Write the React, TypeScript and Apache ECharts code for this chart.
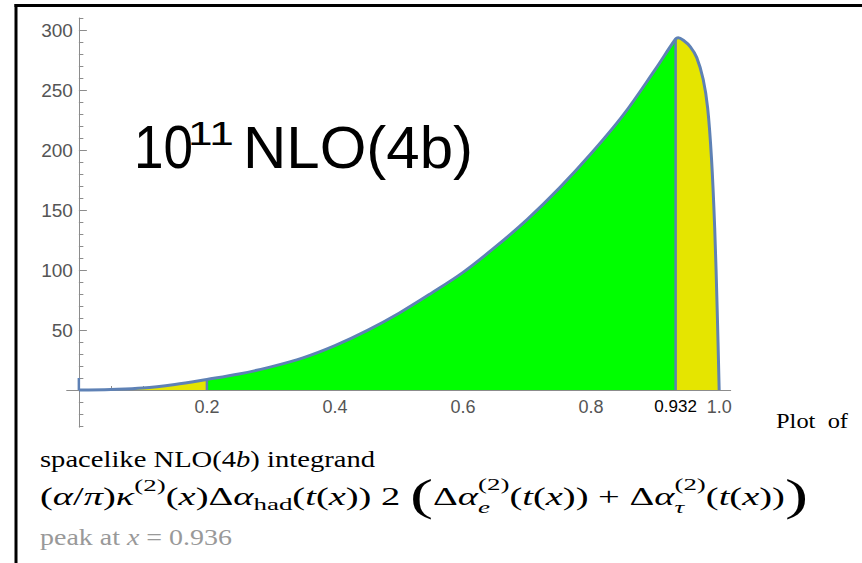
import React, { useEffect, useRef } from 'react';
import * as echarts from 'echarts';

// ---- data ----
const xs = [0, 0.05, 0.1, 0.15, 0.2, 0.25, 0.3, 0.35, 0.4, 0.45, 0.5, 0.55, 0.6, 0.65, 0.7, 0.75, 0.8, 0.85, 0.9, 0.932, 0.936, 0.945, 0.955, 0.965, 0.975, 0.982, 0.988, 0.993, 0.997, 1.0];
const ys = [0, 0.5, 1.6, 4.6, 8.8, 13.3, 19.3, 26.8, 37, 49.5, 64, 80.5, 98, 119, 142, 168, 197, 229, 267, 292.5, 293.5, 291, 286, 277, 259, 235, 193, 135, 65, 0];
const splitPoints = [0.2, 0.932];
const zeroMark = [0, 10];
const xTickLabels = [0.2, 0.4, 0.6, 0.8, 1.0];
const xMarked = 0.932;
const xMinorTicks = [0.05, 0.1, 0.15, 0.25, 0.3, 0.35, 0.45, 0.5, 0.55, 0.65, 0.7, 0.75, 0.85, 0.9, 0.95];
const yTickLabels = [50, 100, 150, 200, 250, 300];
const yMinorTicks = [-30, -20, -10, 10, 20, 30, 40, 60, 70, 80, 90, 110, 120, 130, 140, 160, 170, 180, 190, 210, 220, 230, 240, 260, 270, 280, 290, 310];

const X_MIN = -0.019;
const X_MAX = 1.018;
const Y_MIN = -31;
const Y_MAX = 310;

const BLUE = '#5e81b5';
const GREEN = '#00ff00';
const YELLOW = '#e5e500';
const AXIS = '#8c8c8c';
const LABEL = '#555555';
const SERIF = '"Liberation Serif", "DejaVu Serif", serif';
const SANS = '"Liberation Sans", Arial, sans-serif';

type Piece = { t: string; it?: boolean; sc?: number; dy?: number; noAdv?: boolean };

// Lays pieces out left to right at a given font size, stretched horizontally to span x0..x1.
function layoutLine(pieces: Piece[], x0: number, x1: number, baseline: number, fontSize: number, family: string, color: string) {
  const ctx = document.createElement('canvas').getContext('2d')!;
  let x = 0;
  let pending = 0;
  const placed: { p: Piece; x: number; sz: number }[] = [];
  for (const p of pieces) {
    const sz = fontSize * (p.sc ?? 1);
    ctx.font = `${p.it ? 'italic ' : ''}${sz}px ${family}`;
    const w = ctx.measureText(p.t).width;
    placed.push({ p, x, sz });
    if (p.noAdv) pending = Math.max(pending, w);
    else {
      x += Math.max(w, pending);
      pending = 0;
    }
  }
  const kx = (x1 - x0) / x;
  return placed.map(({ p, x: px, sz }) => {
    const base = baseline + (p.dy ?? 0) * fontSize;
    return {
      type: 'text',
      silent: true,
      x: x0 + px * kx,
      y: base - 0.34 * sz,
      scaleX: kx,
      style: {
        text: p.t,
        fontSize: sz,
        fontFamily: family,
        fontStyle: p.it ? 'italic' : 'normal',
        fill: color,
        align: 'left',
        verticalAlign: 'middle',
      },
    };
  });
}

export default function App() {
  const ref = useRef<HTMLDivElement>(null);
  useEffect(() => {
    if (!ref.current) return;
    const chart = echarts.init(ref.current, null, { renderer: 'svg' });
    const curve = xs.map((x, i) => [x, ys[i]]);
    const meshSeries = splitPoints.map((s) => {
      const i = xs.indexOf(s);
      return {
        type: 'line',
        data: [[s, 0], [s, ys[i]]],
        symbol: 'none',
        lineStyle: { color: BLUE, width: 2.5 },
        z: 3,
        silent: true,
      };
    });

    // grid geometry
    const gLeft = 66.7, gTop = 18, gWidth = 664, gHeight = 409.2;
    const zeroX = gLeft + ((0 - X_MIN) / (X_MAX - X_MIN)) * gWidth;
    const zeroY = gTop + ((Y_MAX - 0) / (Y_MAX - Y_MIN)) * gHeight;
    const xOffset = -(gTop + gHeight - zeroY);
    const yOffset = -(zeroX - gLeft);

    const formula: Piece[] = [
      { t: '(' }, { t: 'α', it: true }, { t: '/' }, { t: 'π', it: true }, { t: ')' }, { t: 'κ', it: true },
      { t: '(2)', sc: 0.7, dy: -0.55 }, { t: '(' }, { t: 'x', it: true }, { t: ')' },
      { t: 'Δ' }, { t: 'α', it: true }, { t: 'had', sc: 0.7, dy: 0.2 }, { t: '(' }, { t: 't', it: true }, { t: '(' }, { t: 'x', it: true }, { t: '))' },
      { t: ' 2 ' }, { t: '(', sc: 1.8, dy: 0.2 },
      { t: 'Δ' }, { t: 'α', it: true }, { t: '(2)', sc: 0.7, dy: -0.6, noAdv: true }, { t: 'e', it: true, sc: 0.7, dy: 0.32 },
      { t: '(' }, { t: 't', it: true }, { t: '(' }, { t: 'x', it: true }, { t: '))' }, { t: ' + ' },
      { t: 'Δ' }, { t: 'α', it: true }, { t: '(2)', sc: 0.7, dy: -0.6, noAdv: true }, { t: 'τ', it: true, sc: 0.7, dy: 0.32 },
      { t: '(' }, { t: 't', it: true }, { t: '(' }, { t: 'x', it: true }, { t: '))' }, { t: ')', sc: 1.8, dy: 0.2 },
    ];

    const FS = 22.5;
    const graphics: any[] = [
      { type: 'line', silent: true, shape: { x1: 16, y1: 4, x2: 16, y2: 563 }, style: { stroke: '#000', lineWidth: 3 } },
      { type: 'line', silent: true, shape: { x1: 14.5, y1: 5.5, x2: 862, y2: 5.5 }, style: { stroke: '#000', lineWidth: 3 } },
      { type: 'text', silent: true, x: 134, y: 147, scaleX: 0.87, style: { text: '10', fontSize: 61, fontFamily: SANS, fill: '#000', align: 'left', verticalAlign: 'middle' } },
      { type: 'text', silent: true, x: 188, y: 133, scaleX: 1.3, style: { text: '11', fontSize: 34, fontFamily: SANS, fill: '#000', align: 'left', verticalAlign: 'middle' } },
      { type: 'text', silent: true, x: 243, y: 147, style: { text: 'NLO(4b)', fontSize: 60, fontFamily: SANS, fill: '#000', align: 'left', verticalAlign: 'middle' } },
      ...layoutLine([{ t: 'Plot' }, { t: '\u2002' }, { t: 'of' }], 776, 848, 428, 22, SERIF, '#000'),
      ...layoutLine([{ t: 'spacelike NLO(4' }, { t: 'b', it: true }, { t: ') integrand' }], 40, 375, 467, FS, SERIF, '#000'),
      ...layoutLine(formula, 40, 808, 505, 25, SERIF, '#000'),
      ...layoutLine([{ t: 'peak at ' }, { t: 'x', it: true }, { t: ' = 0.936' }], 40, 232, 545, FS, SERIF, '#999999'),
    ];

    chart.setOption({
      animation: false,
      grid: { left: gLeft, top: gTop, width: gWidth, height: gHeight, containLabel: false, outerBoundsMode: 'none' },
      xAxis: [
        {
          type: 'value', min: X_MIN, max: X_MAX, position: 'bottom', offset: xOffset,
          axisLine: { onZero: false, lineStyle: { color: AXIS, width: 1 } },
          axisTick: { show: true, inside: true, length: 7, customValues: xTickLabels, lineStyle: { color: AXIS } },
          axisLabel: {
            customValues: [...xTickLabels, xMarked],
            formatter: (v: number) => (Math.abs(v - xMarked) < 1e-9 ? '{k|' + xMarked + '}' : v.toFixed(1)),
            color: LABEL, fontSize: 18, fontFamily: SANS, margin: 8, hideOverlap: false,
            rich: { k: { color: '#000', fontSize: 17, fontFamily: SANS } },
          },
          splitLine: { show: false },
        },
        {
          type: 'value', min: X_MIN, max: X_MAX, position: 'bottom', offset: xOffset,
          axisLine: { show: false, onZero: false },
          axisTick: { show: true, inside: true, length: 4, customValues: xMinorTicks, lineStyle: { color: AXIS } },
          axisLabel: { show: false },
          splitLine: { show: false },
        },
      ],
      yAxis: [
        {
          type: 'value', min: Y_MIN, max: Y_MAX, position: 'left', offset: yOffset,
          axisLine: { onZero: false, lineStyle: { color: AXIS, width: 1 } },
          axisTick: { show: true, inside: true, length: 8, customValues: yTickLabels, lineStyle: { color: AXIS } },
          axisLabel: { customValues: yTickLabels, color: LABEL, fontSize: 19, fontFamily: SANS, margin: 6 },
          splitLine: { show: false },
        },
        {
          type: 'value', min: Y_MIN, max: Y_MAX, position: 'left', offset: yOffset,
          axisLine: { show: false, onZero: false },
          axisTick: { show: true, inside: true, length: 4.5, customValues: yMinorTicks, lineStyle: { color: AXIS } },
          axisLabel: { show: false },
          splitLine: { show: false },
        },
      ],
      visualMap: {
        type: 'piecewise', show: false, dimension: 0, seriesIndex: 0,
        pieces: [
          { lt: splitPoints[0], color: YELLOW },
          { gte: splitPoints[0], lt: splitPoints[1], color: GREEN },
          { gte: splitPoints[1], color: YELLOW },
        ],
      },
      series: [
        {
          type: 'line', data: curve, symbol: 'none', smooth: 0.35,
          lineStyle: { opacity: 0, width: 0 }, areaStyle: { opacity: 1 }, z: 2, silent: true,
        },
        ...meshSeries,
        {
          type: 'line', data: [[zeroMark[0], 0], [zeroMark[0], zeroMark[1]]], symbol: 'none',
          lineStyle: { color: BLUE, width: 2.5 }, z: 3, silent: true,
        },
        {
          type: 'line', data: curve, symbol: 'none', smooth: 0.35,
          lineStyle: { color: BLUE, width: 3 }, z: 4, silent: true,
        },
      ],
      graphic: graphics,
    });
    return () => chart.dispose();
  }, []);
  return <div ref={ref} style={{ position: 'absolute', left: 0, top: 0, width: 862, height: 563, background: '#fff' }} />;
}
